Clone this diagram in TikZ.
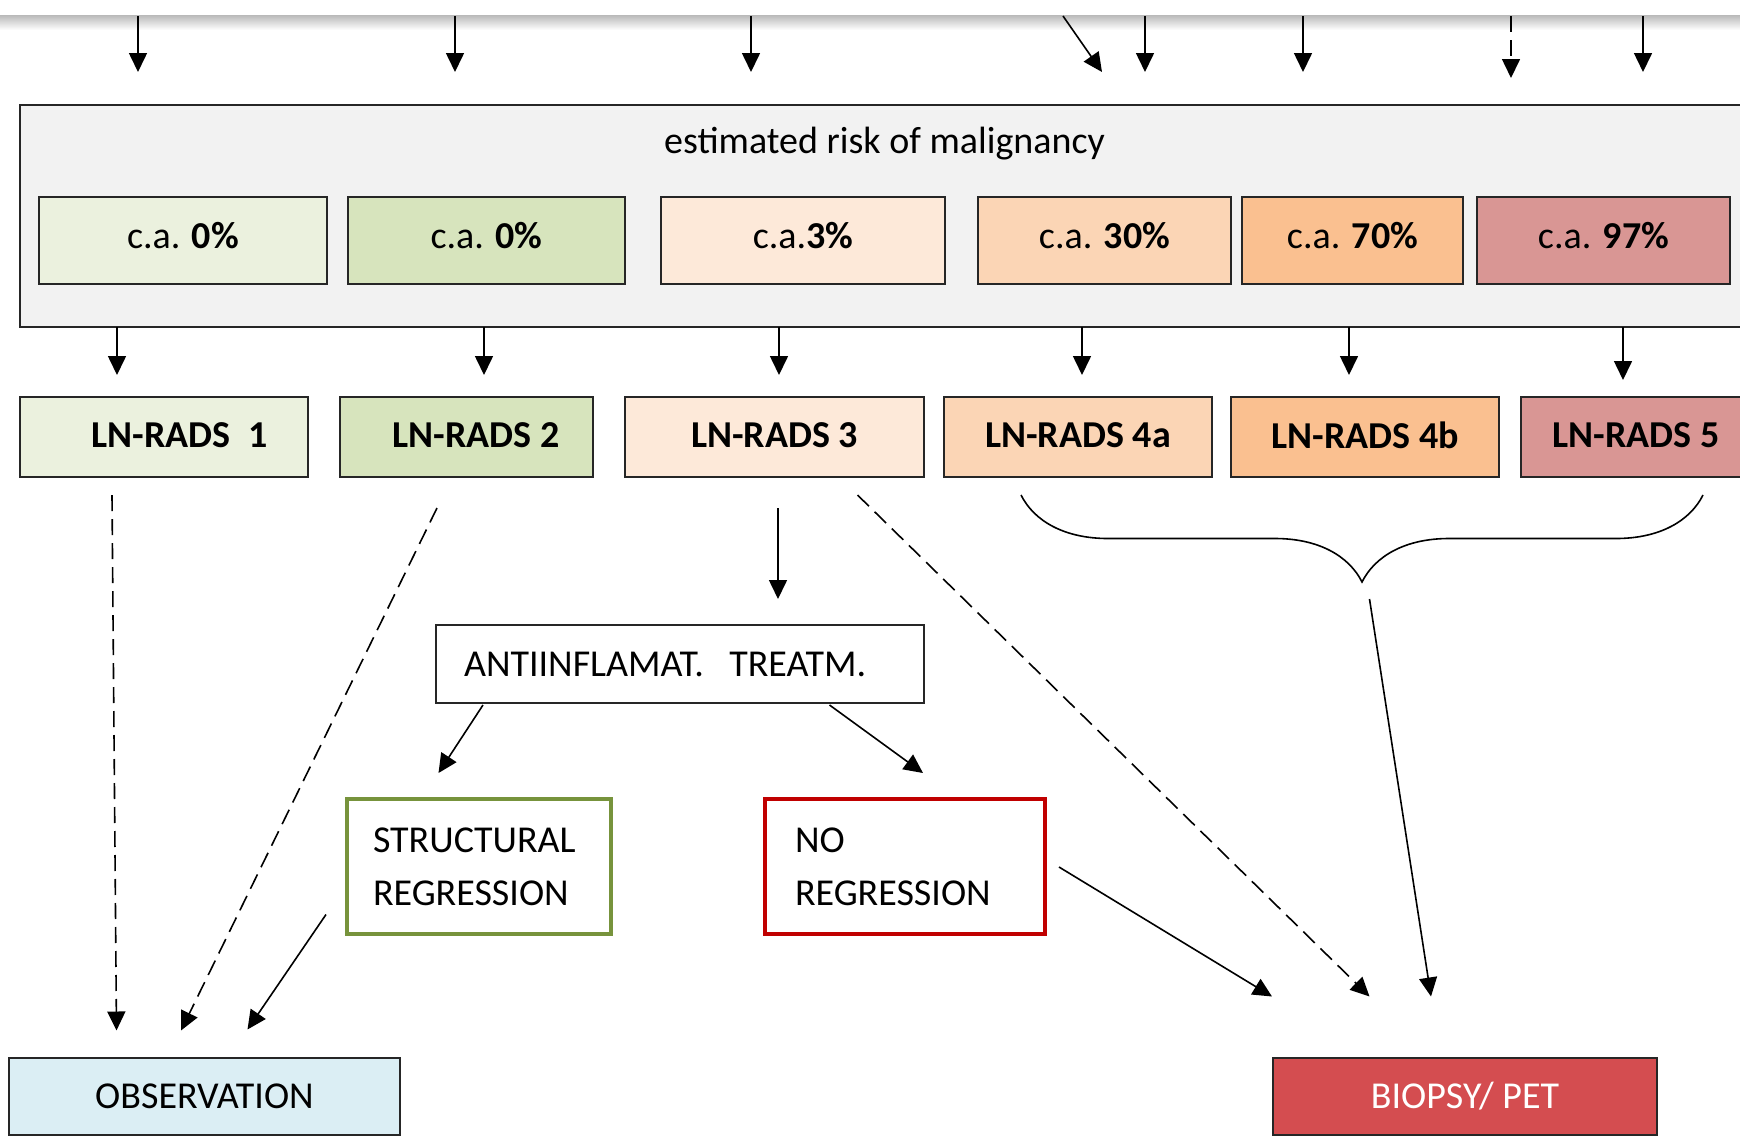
\documentclass[tikz,border=0pt]{standalone}
\usepackage{fontspec}
\setmainfont{Carlito}
\usetikzlibrary{arrows.meta,calc,positioning,decorations.pathreplacing}

\definecolor{riskgray}{HTML}{F2F2F2}
\definecolor{grn1}{HTML}{EBF1DE}
\definecolor{grn2}{HTML}{D7E4BD}
\definecolor{org1}{HTML}{FDE9D9}
\definecolor{org2}{HTML}{FBD5B5}
\definecolor{org3}{HTML}{FAC090}
\definecolor{red1}{HTML}{D99694}
\definecolor{obsblue}{HTML}{DBEEF4}
\definecolor{biored}{HTML}{D44D50}
\definecolor{regrgreen}{HTML}{77933C}
\definecolor{noregred}{HTML}{C00000}

\begin{document}
\begin{tikzpicture}[
        x=1pt, y=-1pt,
        font=\fontsize{38}{53}\selectfont,
        s/.style={draw=black!85,line width=2pt,rectangle,inner sep=0pt,outer sep=0pt},
        rb/.style={s,minimum height=87,text depth=10pt},
        lb/.style={s,minimum height=80,text depth=4pt,font=\fontsize{38}{53}\selectfont\bfseries},
        tb/.style={s,line width=3.5pt,minimum height=135,align=left},
        arr/.style={-{Triangle[length=19pt,width=18pt]},line width=1.6pt},
        dsh/.style={arr,dash pattern=on 16pt off 8pt}
    ]

    \useasboundingbox (0,0) rectangle (1740,1136);
    \clip (0,0) rectangle (1740,1136);
    \fill[white] (0,0) rectangle (1740,1136);
    \shade[top color=gray!55,bottom color=white] (0,15) rectangle (1740,30);

    % risk of malignancy
    \node[s,fill=riskgray,minimum width=1760,minimum height=222] (risk) at (900,216) {};
    \node[anchor=base] (title) at (884.5,153) {estimated risk of malignancy};

    \node[rb,fill=grn1,minimum width=288] (r1) at (183,240.5) {c.a. \textbf{0\%}};
    \node[rb,fill=grn2,minimum width=277,right=21pt of r1] (r2) {c.a. \textbf{0\%}};
    \node[rb,fill=org1,minimum width=284,right=36pt of r2] (r3) {c.a.\textbf{3\%}};
    \node[rb,fill=org2,minimum width=253,right=33pt of r3] (r4) {c.a. \textbf{30\%}};
    \node[rb,fill=org3,minimum width=221,right=11pt of r4] (r5) {c.a. \textbf{70\%}};
    \node[rb,fill=red1,minimum width=253,right=14pt of r5] (r6) {c.a. \textbf{97\%}};

    % LN-RADS
    \node[lb,fill=grn1,minimum width=288] (l1) at (164,437) {\hspace*{31pt}LN-RADS\ \ 1};
    \node[lb,fill=grn2,minimum width=253,right=32pt of l1] (l2) {\hspace*{19pt}LN-RADS 2};
    \node[lb,fill=org1,minimum width=299,right=32pt of l2] (l3) {LN-RADS 3};
    \node[lb,fill=org2,minimum width=268,right=20pt of l3] (l4a) {LN-RADS 4a};
    \node[lb,fill=org3,minimum width=268,right=19pt of l4a] (l4b) {LN-RADS 4b};
    \node[lb,fill=red1,minimum width=230,right=22pt of l4b] (l5) {LN-RADS 5};

    % management
    \node[s,minimum height=78,text width=432,align=left,inner xsep=28pt] (anti) at (680,664) {ANTIINFLAMAT.\ \ TREATM.};
    \node[tb,draw=regrgreen,text width=212,inner xsep=26pt] (str) at (479,866.5) {STRUCTURAL\\REGRESSION};
    \node[tb,draw=noregred,text width=220,inner xsep=30pt] (no) at (905,866.5) {NO\\REGRESSION};
    \node[s,fill=obsblue,minimum width=391,minimum height=77] (obs) at (204.5,1096) {OBSERVATION};
    \node[s,fill=biored,text=white,minimum width=384,minimum height=77] (bio) at (1465,1096) {BIOPSY/ PET};

    % arrows coming in from above
    \foreach \i/\x in {1/138,2/455,3/751,5/1145,6/1303,8/1643} {
        \coordinate (in\i) at (\x,16);
        \draw[arr,shorten >=33pt] (in\i) -- (in\i |- risk.north);
    }
    \coordinate (in4) at (1063,16);
    \coordinate (in4e) at (1102,72);
    \draw[arr] (in4) -- (in4e);
    \coordinate (in7) at (1511,16);
    \draw[dsh,shorten >=27pt] (in7) -- (in7 |- risk.north);

    \foreach \n/\dx/\g in {l1/-47/22,l2/17.5/22,l3/4.5/22,l4a/4/22,l4b/-16/22,l5/-13/17}
        \draw[arr] ($(\n.north)+(\dx,-70)$) -- ($(\n.north)+(\dx,-\g)$);

    % brace over 4a, 4b, 5
    \draw[decorate,decoration={brace,mirror,amplitude=87pt},line width=1.6pt]
        ($(l4a.south)+(-57,18)$) -- ($(l5.south)+(67,18)$);
    \path ($(l4a.south)+(-57,18)$) -- ($(l5.south)+(67,18)$) coordinate[pos=.5] (bmid);

    \draw[dsh] ($(l1.south)+(-52,18)$) -- ($(obs.north)+(-88,-27)$);
    \draw[dsh] ($(l2.south)+(-29.5,31)$) -- ($(obs.north)+(-23.5,-27)$);
    \draw[arr] ($(l3.south)+(3.5,31)$) -- ($(anti.north)+(98,-26)$);
    \draw[dsh] ($(l3.south)+(83,18)$) -- ($(bio.north)+(-95.5,-61)$);
    \draw[arr] ($(bmid)+(7.5,104)$) -- ($(bio.north)+(-34,-61)$);
    \draw[arr] ($(anti.south)+(-197,2)$) -- ($(str.north)+(-40.5,-26)$);
    \draw[arr] ($(anti.south)+(149.5,2)$) -- ($(no.north)+(18,-26)$);
    \draw[arr] ($(str.west)+(-21,48)$) -- ($(obs.north)+(43,-28)$);
    \draw[arr] ($(no.east)+(14,0.5)$) -- ($(bio.north)+(-193,-61)$);

\end{tikzpicture}
\end{document}
